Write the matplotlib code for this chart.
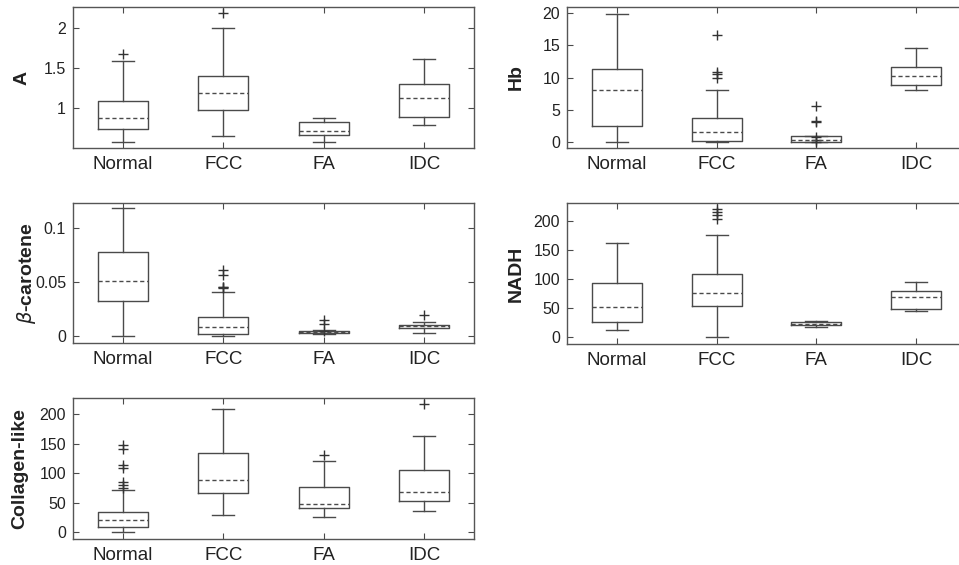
import matplotlib
matplotlib.use('Agg')
import matplotlib.pyplot as plt
from matplotlib import rcParams

rcParams['font.family'] = ['Liberation Sans', 'DejaVu Sans']
rcParams['mathtext.fontset'] = 'dejavusans'

groups = ['Normal', 'FCC', 'FA', 'IDC']

# A
a_lo = [0.58, 0.65, 0.57, 0.79]
a_q1 = [0.74, 0.975, 0.66, 0.89]
a_med = [0.87, 1.19, 0.71, 1.13]
a_q3 = [1.09, 1.40, 0.82, 1.30]
a_hi = [1.59, 2.0, 0.88, 1.61]
a_out = [[1.67], [2.18], [], []]

# Hb
hb_lo = [0.0, 0.0, 0.0, 8.0]
hb_q1 = [2.45, 0.06, 0.0, 8.85]
hb_med = [8.1, 1.56, 0.22, 10.25]
hb_q3 = [11.4, 3.75, 0.8, 11.6]
hb_hi = [19.9, 8.1, 0.85, 14.6]
hb_out = [[], [16.7, 10.9, 10.6, 10.0], [5.6, 3.2, 3.0, 0.78, 0.3, -0.1], []]

# beta-carotene
bc_lo = [0.0, 0.0, 0.0018, 0.0034]
bc_q1 = [0.0328, 0.0025, 0.0028, 0.008]
bc_med = [0.0512, 0.0086, 0.004, 0.0096]
bc_q3 = [0.078, 0.0178, 0.0048, 0.0108]
bc_hi = [0.118, 0.0408, 0.006, 0.0129]
bc_out = [[], [0.0607, 0.0564, 0.0458, 0.0452, 0.0446], [0.0155, 0.011, 0.0046], [0.0193]]

# NADH
nadh_lo = [12.6, 0.0, 17.2, 45.0]
nadh_q1 = [25.3, 54.0, 20.7, 48.0]
nadh_med = [52.3, 76.4, 22.4, 69.0]
nadh_q3 = [92.5, 108.6, 25.3, 80.0]
nadh_hi = [162.0, 176.0, 27.6, 94.0]
nadh_out = [[], [221, 216, 211, 203], [], []]

# Collagen-like
col_lo = [0.5, 28.4, 25.6, 35.2]
col_q1 = [8.0, 66.5, 41.5, 52.8]
col_med = [20.5, 88.0, 47.7, 68.0]
col_q3 = [34.6, 134.0, 76.0, 105.0]
col_hi = [71.7, 209.0, 121.0, 163.6]
col_out = [[148.5, 141.0, 114.0, 108.7, 85.8, 80.2, 75.6], [], [130.6], [218.0]]

W, H = 959, 565
fig = plt.figure(figsize=(W / 100, H / 100), dpi=100)

line_c = '#4a4a4a'
text_c = '#222222'


def panel(box, lo, q1, med, q3, hi, out, ylabel, ylim, yticks, yticklabels, lab_x):
    left, top, right, bottom = box
    ax = fig.add_axes([left / W, 1 - bottom / H, (right - left) / W, (bottom - top) / H])
    stats = []
    for i in range(len(groups)):
        stats.append(dict(whislo=lo[i], q1=q1[i], med=med[i], q3=q3[i],
                          whishi=hi[i], fliers=out[i], label=groups[i]))
    ax.bxp(stats, positions=[1, 2, 3, 4], widths=0.5, capwidths=0.22,
           boxprops=dict(color=line_c, linewidth=1.0),
           whiskerprops=dict(color=line_c, linewidth=1.0),
           capprops=dict(color=line_c, linewidth=1.0),
           medianprops=dict(color=line_c, linewidth=1.0, linestyle=(0, (3, 2))),
           flierprops=dict(marker='+', markeredgecolor='#333333', markersize=7,
                           markeredgewidth=1.0, linestyle='none'))
    ax.set_xlim(0.5, 4.5)
    ax.set_ylim(*ylim)
    ax.set_yticks(yticks)
    ax.set_yticklabels(yticklabels)
    ax.tick_params(axis='both', direction='in', top=True, right=True,
                   length=4, width=0.8, color=line_c, labelcolor=text_c)
    ax.tick_params(axis='x', labelsize=13.5, pad=6)
    ax.tick_params(axis='y', labelsize=11.5, pad=5)
    for s in ax.spines.values():
        s.set_color('#555555')
        s.set_linewidth(1.0)
    ax.set_ylabel(ylabel, fontsize=14, fontweight='bold', color=text_c)
    ax.yaxis.set_label_coords(lab_x, 0.5)
    return ax


panel((73, 7, 474, 148), a_lo, a_q1, a_med, a_q3, a_hi, a_out, 'A',
      (0.5, 2.26), [1, 1.5, 2], ['1', '1.5', '2'], -0.105)
panel((567, 7, 966, 148), hb_lo, hb_q1, hb_med, hb_q3, hb_hi, hb_out, 'Hb',
      (-1.0, 21.0), [0, 5, 10, 15, 20], ['0', '5', '10', '15', '20'], -0.105)
panel((73, 203, 474, 343), bc_lo, bc_q1, bc_med, bc_q3, bc_hi, bc_out,
      r'$\beta$' + '-carotene', (-0.0061, 0.1227), [0, 0.05, 0.1], ['0', '0.05', '0.1'], -0.088)
panel((567, 203, 966, 344), nadh_lo, nadh_q1, nadh_med, nadh_q3, nadh_hi, nadh_out, 'NADH',
      (-12, 231), [0, 50, 100, 150, 200], ['0', '50', '100', '150', '200'], -0.105)
panel((73, 398, 474, 539), col_lo, col_q1, col_med, col_q3, col_hi, col_out, 'Collagen-like',
      (-12, 228), [0, 50, 100, 150, 200], ['0', '50', '100', '150', '200'], -0.112)

fig.savefig('out.png', dpi=100)
